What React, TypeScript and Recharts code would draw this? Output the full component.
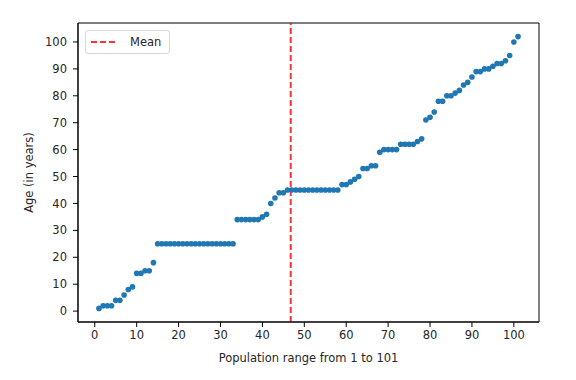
import { ScatterChart, Scatter, XAxis, YAxis, ReferenceLine, ReferenceArea, Legend } from "recharts";

// sorted ages, one per person (person 1 .. 101)
const ages = [
  1, 2, 2, 2, 4, 4, 6, 8, 9, 14,
  14, 15, 15, 18, 25, 25, 25, 25, 25, 25,
  25, 25, 25, 25, 25, 25, 25, 25, 25, 25,
  25, 25, 25, 34, 34, 34, 34, 34, 34, 35,
  36, 40, 42, 44, 44, 45, 45, 45, 45, 45,
  45, 45, 45, 45, 45, 45, 45, 45, 47, 47,
  48, 49, 50, 53, 53, 54, 54, 59, 60, 60,
  60, 60, 62, 62, 62, 62, 63, 64, 71, 72,
  74, 78, 78, 80, 80, 81, 82, 84, 85, 87,
  89, 89, 90, 90, 91, 92, 92, 93, 95, 100,
  102,
];

const xTicks = [0, 10, 20, 30, 40, 50, 60, 70, 80, 90, 100];
const yTicks = [0, 10, 20, 30, 40, 50, 60, 70, 80, 90, 100];
const xLabel = "Population range from 1 to 101";
const yLabel = "Age (in years)";
const meanName = "Mean";

const points = ages.map((age, i) => ({ person: i + 1, age }));
const meanAge = ages.reduce((acc, curr) => acc + curr, 0) / ages.length;

const X_DOMAIN: [number, number] = [-4, 106];
const Y_DOMAIN: [number, number] = [-4.05, 107.05];

const FONT = "'DejaVu Sans', sans-serif";
const TEXT = "#262626";
const BLUE = "#1f77b4";
const RED = "rgba(255,0,0,0.8)";

const tickStyle = { fontSize: 11.5, fill: TEXT, fontFamily: FONT };

function MeanLegend() {
  return (
    <div
      style={{
        display: "flex",
        alignItems: "center",
        gap: 12,
        padding: "3px 8px 3px 5px",
        border: "1px solid #d6d6d6",
        borderRadius: 3,
        background: "rgba(255,255,255,0.8)",
        fontFamily: FONT,
        fontSize: 11.5,
        color: TEXT,
        height: 16,
      }}
    >
      <svg width={27} height={4}>
        <line x1={0} y1={2} x2={27} y2={2} stroke={RED} strokeWidth={2} strokeDasharray="6 3" />
      </svg>
      <span>{meanName}</span>
    </div>
  );
}

export default function App() {
  return (
    <div style={{ position: "absolute", left: 0, top: 0, width: 576, height: 380, background: "#fff" }}>
      <ScatterChart width={576} height={380} margin={{ top: 23, right: 37, bottom: 0, left: 0 }}>
        <XAxis
          type="number"
          dataKey="person"
          domain={X_DOMAIN}
          ticks={xTicks}
          height={58}
          tick={tickStyle}
          tickSize={5}
          tickMargin={4}
          stroke="#000"
          tickLine={{ stroke: "#000" }}
          label={{ value: xLabel, position: "insideBottom", offset: 18, style: { fontSize: 11.5, fill: TEXT, fontFamily: FONT } }}
        />
        <YAxis
          type="number"
          dataKey="age"
          domain={Y_DOMAIN}
          ticks={yTicks}
          width={78}
          tick={tickStyle}
          tickSize={5}
          tickMargin={6}
          stroke="#000"
          tickLine={{ stroke: "#000" }}
          label={{ value: yLabel, angle: -90, position: "insideLeft", offset: 29, style: { textAnchor: "middle", fontSize: 11.5, fill: TEXT, fontFamily: FONT } }}
        />
        <ReferenceArea x1={X_DOMAIN[0]} x2={X_DOMAIN[1]} y1={Y_DOMAIN[0]} y2={Y_DOMAIN[1]} fill="none" fillOpacity={0} stroke="#000" strokeWidth={1} />
        <Scatter
          data={points}
          isAnimationActive={false}
          shape={(props: any) => <circle cx={props.cx} cy={props.cy} r={2.8} fill={BLUE} />}
        />
        <ReferenceLine x={meanAge} stroke={RED} strokeWidth={2} strokeDasharray="6 3" />
        <Legend
          layout="horizontal"
          verticalAlign="middle"
          content={() => <MeanLegend />}
          wrapperStyle={{ left: 85, top: 30, width: "auto" }}
        />
      </ScatterChart>
    </div>
  );
}
